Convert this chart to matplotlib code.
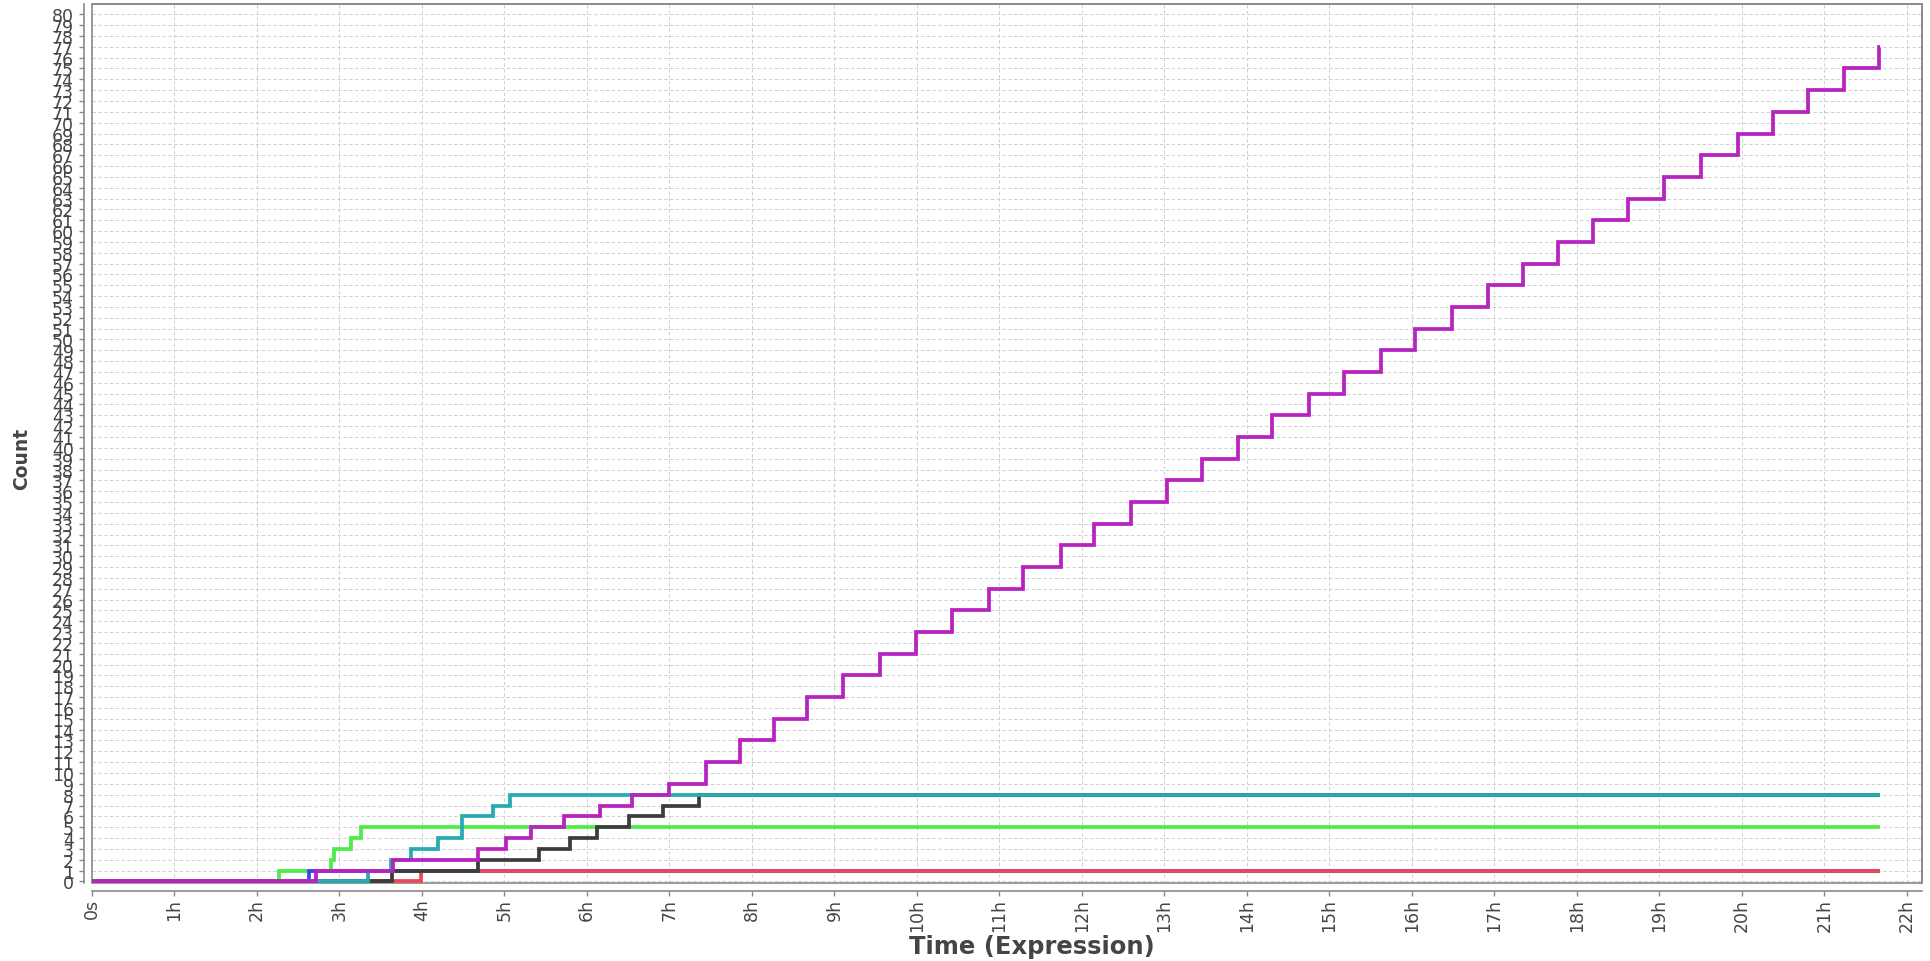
import matplotlib
matplotlib.use("Agg")
import matplotlib.pyplot as plt
from matplotlib.patches import Rectangle

# ---- data: change times (hours) and the count reached at each change ----
END_H = 21.67

red_t = [3.99]
red_n = [1]

green_t = [2.27, 2.90, 2.93, 3.14, 3.26]
green_n = [1, 2, 3, 4, 5]

blue_t = [2.63]
blue_n = [1]

black_t = [3.64, 4.68, 5.42, 5.80, 6.12, 6.51, 6.92, 7.36]
black_n = [1, 2, 3, 4, 5, 6, 7, 8]

teal_t = [3.34, 3.63, 3.87, 4.20, 4.49, 4.86, 5.07]
teal_n = [1, 2, 3, 4, 6, 7, 8]

magenta_t = [2.71, 3.65, 4.68, 5.02, 5.32, 5.72, 6.16, 6.55,
             7.00, 7.44, 7.85, 8.27, 8.67, 9.10, 9.55, 9.99,
             10.42, 10.87, 11.29, 11.74, 12.15, 12.59, 13.03, 13.46,
             13.89, 14.30, 14.75, 15.18, 15.62, 16.04, 16.48, 16.92,
             17.34, 17.77, 18.20, 18.62, 19.06, 19.50, 19.95, 20.37,
             20.80, 21.24, 21.66]
magenta_n = [1, 2, 3, 4, 5, 6, 7, 8,
             9, 11, 13, 15, 17, 19, 21, 23,
             25, 27, 29, 31, 33, 35, 37, 39,
             41, 43, 45, 47, 49, 51, 53, 55,
             57, 59, 61, 63, 65, 67, 69, 71,
             73, 75, 77]

x_ticks = list(range(0, 23))
x_labels = ["0s"] + [f"{h}h" for h in range(1, 23)]
y_ticks = list(range(0, 81))
y_labels = [str(v) for v in y_ticks]

series = [
    (green_t, green_n, "#4ded47"),
    (blue_t, blue_n, "#4040f5"),
    (red_t, red_n, "#e8485c"),
    (black_t, black_n, "#3c3c3c"),
    (teal_t, teal_n, "#26abb0"),
    (magenta_t, magenta_n, "#b822c0"),
]

# ---- figure ----
W, H = 1931, 962
fig = plt.figure(figsize=(W / 100, H / 100), dpi=100)
fig.patch.set_facecolor("white")

left, right, top, bottom = 92, 1922, 5, 884
ax = fig.add_axes([left / W, 1 - bottom / H, (right - left) / W, (bottom - top) / H])
ax.set_facecolor("white")

ax.set_xlim(0, (right - left) / 82.5)
ax.set_ylim(-0.15, 80.95)

grid_kw = dict(color="#cfcfcf", linewidth=0.7, linestyle=(0, (3.5, 2.5)), zorder=1)
for h in x_ticks:
    ax.axvline(h, **grid_kw)
for v in y_ticks:
    ax.axhline(v, **grid_kw)

for t, n, c in series:
    xs = [0.0] + list(t) + [END_H]
    ys = [0] + list(n) + [n[-1]]
    ax.step(xs, ys, where="post", color=c, linewidth=2.7, zorder=3,
            solid_joinstyle="miter", solid_capstyle="butt")

# plot frame plus offset axis lines
frame_col = "#8a8a8a"
for s in ("top", "right"):
    ax.spines[s].set_color(frame_col)
    ax.spines[s].set_linewidth(1.2)
for s in ("left", "bottom"):
    ax.spines[s].set_position(("outward", 5.5))
    ax.spines[s].set_color(frame_col)
    ax.spines[s].set_linewidth(1.2)
ax.add_patch(Rectangle((0, 0), 1, 1, transform=ax.transAxes, fill=False,
                       edgecolor=frame_col, linewidth=1.2, clip_on=False, zorder=2.5))

ax.set_xticks(x_ticks)
ax.set_xticklabels(x_labels, rotation=90)
ax.set_yticks(y_ticks)
ax.set_yticklabels(y_labels)
ax.tick_params(axis="both", colors=frame_col, labelcolor="#454545",
               labelsize=12.5, length=3.5, width=1.0, direction="out")
ax.tick_params(axis="x", pad=2)
ax.tick_params(axis="y", pad=4)

fig.text(22 / W, 1 - 459 / H, "Count", rotation=90, ha="center", va="center",
         fontsize=13.5, fontweight="bold", color="#454545")
fig.text(1032 / W, 1 - 947 / H, "Time (Expression)", ha="center", va="center",
         fontsize=17.5, fontweight="bold", color="#454545")

fig.savefig("out.png", dpi=100, facecolor="white")
